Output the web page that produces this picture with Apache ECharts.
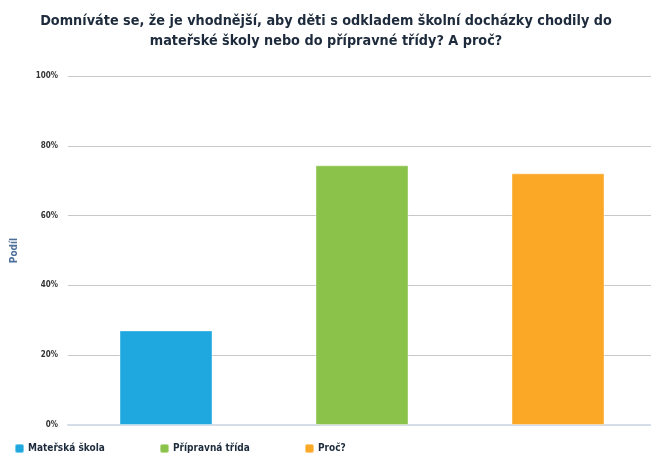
<!DOCTYPE html>
<html>
<head>
<meta charset="utf-8">
<script src="https://cdn.jsdelivr.net/npm/echarts@6/dist/echarts.min.js"></script>
<style>
  html, body { margin: 0; padding: 0; background: #fff; overflow: hidden; }
  #chart { width: 660px; height: 453px; }
</style>
</head>
<body>
<div id="chart"></div>
<script>
var categories = ['Mateřská škola', 'Přípravná třída', 'Proč?'];
var values = [27.1, 74.4, 72.1];
var colors = ['#1fa8e0', '#8bc34a', '#fba826'];
var yTicks = [0, 20, 40, 60, 80, 100];

var font = 'DejaVu Sans Condensed';
var chart = echarts.init(document.getElementById('chart'));

function buildSeries() {
    var res = [];
    categories.forEach(function (name, i) {
        var d = categories.map(function (c, j) { return j === i ? values[i] : '-'; });
        res.push({
            name: name,
            type: 'bar',
            stack: 'one',
            barWidth: 93,
            data: d,
            itemStyle: { color: colors[i], borderColor: 'rgba(255,255,255,0.4)', borderWidth: 1 }
        });
    });
    return res;
}

function buildLegends() {
    return categories.map(function (name, i) {
        return {
            data: [name],
            left: 9 + i * 145,
            top: 438,
            icon: 'roundRect',
            itemWidth: 9,
            itemHeight: 9,
            itemGap: 4,
            selectedMode: false,
            textStyle: { fontFamily: font, fontWeight: 'bold', fontSize: 10, color: '#1d2b3c', padding: [0, 0, 0, -1] }
        };
    });
}

var option = {
    animation: false,
    title: {
        text: 'Domníváte se, že je vhodnější, aby děti s odkladem školní docházky chodily do\nmateřské školy nebo do přípravné třídy? A proč?',
        left: 321,
        textAlign: 'center',
        top: 6,
        textStyle: { fontFamily: font, fontWeight: 'bold', fontSize: 14.3, color: '#1d2b3c', lineHeight: 20 }
    },
    legend: buildLegends(),
    grid: { left: 68, width: 588, top: 76, bottom: 28 },
    xAxis: {
        type: 'category',
        data: categories,
        axisLine: { lineStyle: { color: '#d5dde8', width: 2 } },
        axisTick: { alignWithLabel: true, length: 5, lineStyle: { color: '#d5dde8' } },
        axisLabel: { show: false }
    },
    yAxis: {
        type: 'value',
        min: yTicks[0],
        max: yTicks[yTicks.length - 1],
        interval: 20,
        name: 'Podíl',
        nameLocation: 'middle',
        nameGap: 49,
        nameTextStyle: { fontFamily: font, fontWeight: 'bold', fontSize: 10, color: '#4f7199' },
        axisLabel: {
            formatter: '{value}%',
            fontFamily: font, fontWeight: 'bold', fontSize: 8, color: '#333', margin: 10
        },
        splitLine: { lineStyle: { color: '#c8c8c8' } }
    },
    series: buildSeries()
};
chart.setOption(option);
</script>
</body>
</html>
